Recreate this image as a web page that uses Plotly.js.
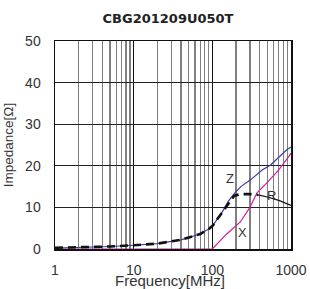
<!DOCTYPE html>
<html><head><meta charset="utf-8">
<script src="https://cdn.plot.ly/plotly-3.0.1.min.js"></script>
<style>html,body{margin:0;padding:0;background:#fff}#c{width:310px;height:289px}</style>
</head><body><div id="c"></div>
<script>
var freqZ = [1, 2, 5, 10, 20, 40, 70, 90, 100, 130, 160, 190, 230, 300, 430, 550, 700, 890, 1000];
var valZ  = [0.2, 0.3, 0.6, 0.9, 1.3, 2.2, 3.6, 4.8, 5.5, 8.5, 11.5, 13.3, 15, 16.5, 19, 20.2, 22, 23.9, 24.5];
var freqRd = [1, 2, 5, 10, 20, 40, 70, 90, 100, 130, 160, 190, 230, 300, 380];
var valRd  = [0.3, 0.4, 0.6, 0.9, 1.3, 2.2, 3.6, 4.8, 5.5, 8.5, 11, 12.8, 13.2, 13.2, 13];
var freqRs = [380, 500, 700, 1000];
var valRs  = [13, 12.5, 11.7, 10.5];
var freqX = [1, 10, 100, 150, 227, 300, 370, 500, 700, 970, 1000];
var valX  = [0, 0, 0, 3.5, 6.5, 10, 13.5, 16, 19, 22.6, 23];
var labels = [{t:'Z', f:170, v:17}, {t:'R', f:560, v:12.8}, {t:'X', f:240, v:4}];
var minorVals = [2,3,4,5,6,7,8,9,20,30,40,50,60,70,80,90,200,300,400,500,600,700,800,900];

var traces = [
  {x: freqZ, y: valZ, mode:'lines', line:{color:'#3a3aa8', width:1.2}},
  {x: freqX, y: valX, mode:'lines', line:{color:'#d0209a', width:1.2}},
  {x: freqRd, y: valRd, mode:'lines', line:{color:'#111', width:2.6, dash:'8px,5px'}},
  {x: freqRs, y: valRs, mode:'lines', line:{color:'#111', width:1.2}}
];
var ann = labels.map(function(l){return {x: Math.log10(l.f), y: l.v, xref:'x', yref:'y', text:l.t, showarrow:false, font:{family:'Liberation Sans, Arial', size:13, color:'#333'}};});
ann.push({x:0.5, y:-0.15, xref:'paper', yref:'paper', yanchor:'middle', text:'Frequency[MHz]', showarrow:false, font:{family:'Liberation Sans, Arial', size:15, color:'#333'}, xshift:-3});
var layout = {
  width:310, height:289,
  margin:{l:55, r:19, t:41, b:40},
  paper_bgcolor:'#fff', plot_bgcolor:'#fff',
  showlegend:false,
  title:{text:'<b>CBG201209U050T</b>', x:0.542, xanchor:'center', y:0.935, yanchor:'middle', font:{family:'DejaVu Sans, Arial', size:13, color:'#222'}},
  xaxis:{type:'log', range:[0,3], tickvals:[1,10,100,1000], ticktext:['1','10','100','1000'],
    showgrid:true, gridcolor:'#111', gridwidth:1.2, zeroline:false,
    showline:true, linecolor:'#111', linewidth:1.5, mirror:true, ticks:'',
    tickfont:{family:'Liberation Sans, Arial', size:14, color:'#333'}, ticklabelstandoff:8,
    minor:{tickvals:minorVals, showgrid:true, gridcolor:'#808080', gridwidth:1.3, ticks:''}},
  yaxis:{range:[0,50], tickvals:[0,10,20,30,40,50], showgrid:true, gridcolor:'#222', gridwidth:1.2, zeroline:false,
    showline:true, linecolor:'#111', linewidth:1.5, mirror:true, ticks:'',
    tickfont:{family:'Liberation Sans, Arial', size:14, color:'#333'}, ticklabelstandoff:10,
    title:{text:'Impedance[Ω]', standoff:8, font:{family:'Liberation Sans, Arial', size:13.5, color:'#333'}}},
  annotations: ann
};
Plotly.newPlot('c', traces, layout, {staticPlot:true, displayModeBar:false});
</script></body></html>
